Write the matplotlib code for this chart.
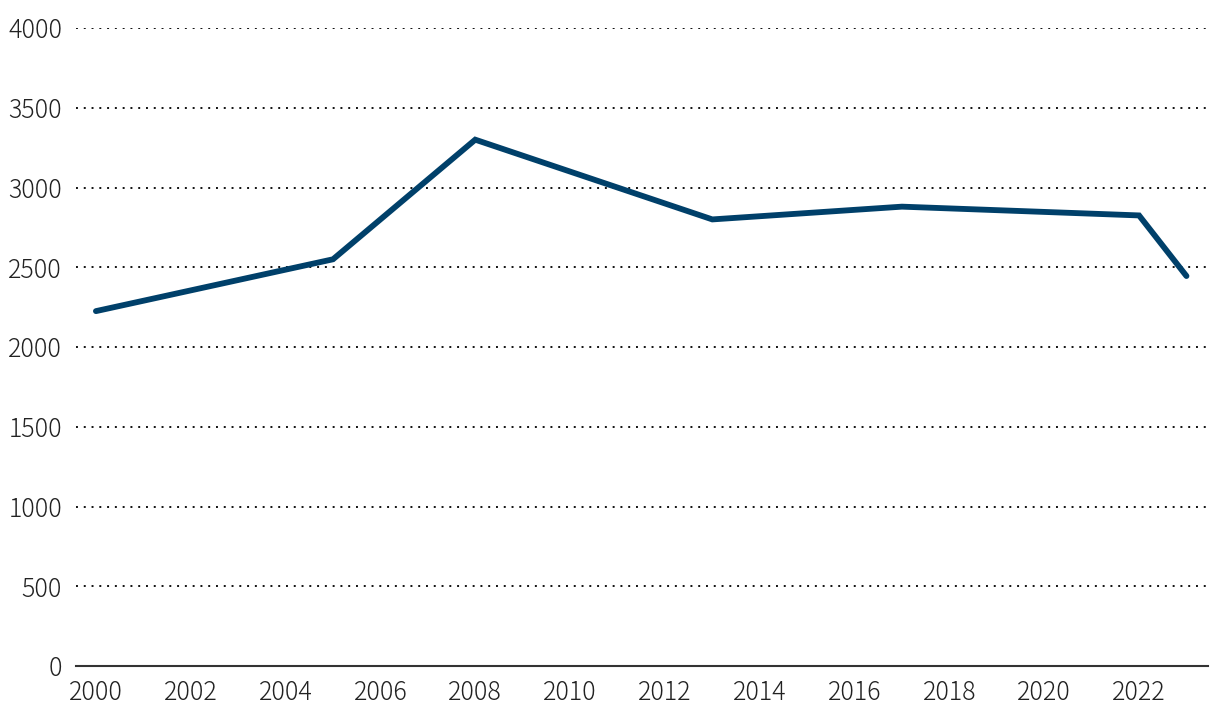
import matplotlib.pyplot as plt

years = [2000, 2005, 2008, 2013, 2017, 2022, 2023]
values = [2225, 2550, 3300, 2800, 2880, 2825, 2445]
x_ticks = list(range(2000, 2023, 2))
y_ticks = list(range(0, 4001, 500))

plt.rcParams['font.family'] = ['Noto Sans CJK JP', 'DejaVu Sans']
plt.rcParams['font.weight'] = 'light'

fig = plt.figure(figsize=(12.2, 7.24), dpi=100)
ax = fig.add_axes([0.0623, 0.0801, 0.9277, 0.8812])

ax.plot(years, values, color='#00406a', linewidth=4.2, solid_capstyle='round',
        solid_joinstyle='miter', zorder=3)

ax.set_xlim(1999.58, 2023.45)
ax.set_ylim(0, 4000)
ax.set_xticks(x_ticks)
ax.set_yticks(y_ticks)
ax.tick_params(axis='both', length=0, labelsize=18, colors='#222222')
ax.tick_params(axis='y', pad=10)
ax.tick_params(axis='x', pad=10)

ax.grid(axis='y', linestyle=(0, (1, 3)), color='#111111', linewidth=1.4)
ax.grid(axis='x', visible=False)
for s in ['top', 'right', 'left']:
    ax.spines[s].set_visible(False)
ax.spines['bottom'].set_color('#333333')
ax.spines['bottom'].set_linewidth(1.5)
ax.set_axisbelow(True)

plt.savefig('out.png', dpi=100)
